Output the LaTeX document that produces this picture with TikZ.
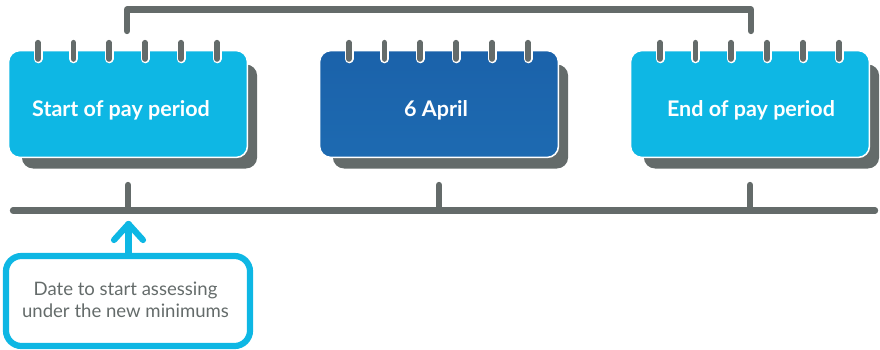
\documentclass[tikz,border=0pt]{standalone}
\usepackage{fontspec}
\setmainfont{Lato}
\usetikzlibrary{
    arrows.meta,
    positioning,
    calc
}
\definecolor{payCyan}{HTML}{0EB7E4}
\definecolor{payGrey}{HTML}{646B6A}
\definecolor{payBlueTop}{HTML}{1B62AA}
\definecolor{payBlueBot}{HTML}{1D6AB1}
\tikzset{
    % --- Calendar page ---
    calendar/.style = {
        rectangle, draw=white, line width=1.1pt,
        rounded corners=8pt,
        minimum width=5.97cm, minimum height=2.67cm
    },
    % --- Light calendar page ---
    light calendar/.style = {
        calendar, fill=payCyan
    },
    % --- Dark calendar page ---
    dark calendar/.style = {
        calendar, top color=payBlueTop, bottom color=payBlueBot
    },
    % --- Text on a page ---
    page label/.style = {
        font=\bfseries\fontsize{15.3}{18}\selectfont, text=white, align=center
    },
    % --- Offset shadow behind a page ---
    page shadow/.style = {
        rectangle, fill=payGrey, rounded corners=8pt,
        minimum width=5.88cm, minimum height=2.6cm
    },
    % --- Binding ring ---
    ring/.style = {
        draw=payGrey, line width=4.2pt, line cap=round,
        preaction={draw=white, line width=6.4pt, line cap=round}
    },
    % --- Grey connector line ---
    rail/.style = {
        draw=payGrey, line width=4.5pt, line cap=round, line join=round
    },
    % --- Note box below the time line ---
    note/.style = {
        rectangle, draw=payCyan, line width=4.4pt,
        rounded corners=11pt,
        minimum width=6.1cm, minimum height=2.25cm
    },
    % --- Text in the note box ---
    note label/.style = {
        font=\fontsize{13.2}{15.4}\selectfont, text=payGrey, align=center
    },
    % --- Cyan arrow ---
    note arrow/.style = {
        draw=payCyan, line width=4.4pt, line cap=round, line join=round
    }
}
\begin{document}
\begin{tikzpicture}[x=0.025cm, y=-0.025cm]

\useasboundingbox (0, 0) rectangle (880, 349);

% ---------------------------------------------------------
% Shadows and calendar pages
% ---------------------------------------------------------
\node[page shadow] (StartShadow) at (139.5, 116.5) {};
\node[page shadow] (AprilShadow) at (450.5, 116.5) {};
\node[page shadow] (EndShadow) at (761.5, 116.5) {};

\node[light calendar] (StartCal) at (128, 104) {};
\node[dark calendar] (AprilCal) at (439, 104) {};
\node[light calendar] (EndCal) at (750, 104) {};

\node[page label] (StartLabel) at ($(StartCal.center) + (-7, 6)$) {Start of pay period};
\node[page label] (AprilLabel) at ($(AprilCal.center) + (-3, 6)$) {6 April};
\node[page label] (EndLabel) at ($(EndCal.center) + (1, 6)$) {End of pay period};

% ---------------------------------------------------------
% Binding rings
% ---------------------------------------------------------
\foreach \cal in {StartCal, AprilCal, EndCal} {
    \foreach \dx in {-90, -54.5, -19, 17, 53, 89} {
        \draw[ring] ($(\cal.north) + (\dx, -7)$) -- ($(\cal.north) + (\dx, 9)$);
    }
}

% ---------------------------------------------------------
% Bracket over the pages
% ---------------------------------------------------------
\coordinate (BracketL) at (127, 31);
\coordinate (BracketR) at (751, 31);
\draw[rail] (BracketL) |- (439, 9.5) -| (BracketR);

% ---------------------------------------------------------
% Time line with ticks
% ---------------------------------------------------------
\coordinate (LineL) at (13, 210.5);
\coordinate (LineR) at (875, 210.5);
\draw[rail] (LineL) -- (LineR);

\coordinate (TickA) at (128, 185);
\coordinate (TickB) at (439, 185);
\coordinate (TickC) at (750, 185);
\draw[rail] (TickA) -- (TickA |- LineL);
\draw[rail] (TickB) -- (TickB |- LineL);
\draw[rail] (TickC) -- (TickC |- LineL);

% ---------------------------------------------------------
% Note and arrow
% ---------------------------------------------------------
\node[note] (Note) at (128, 301) {};
\node[note label] (NoteText) at ($(Note.center) + (-2.5, -1)$) {Date to start assessing\\under the new minimums};

\coordinate (ArrowTip) at (128.5, 224);
\draw[note arrow] (Note.north -| ArrowTip) -- (ArrowTip);
\draw[note arrow] ($(ArrowTip) + (-14.5, 16)$) -- (ArrowTip) -- ($(ArrowTip) + (14.5, 16)$);

\end{tikzpicture}
\end{document}
